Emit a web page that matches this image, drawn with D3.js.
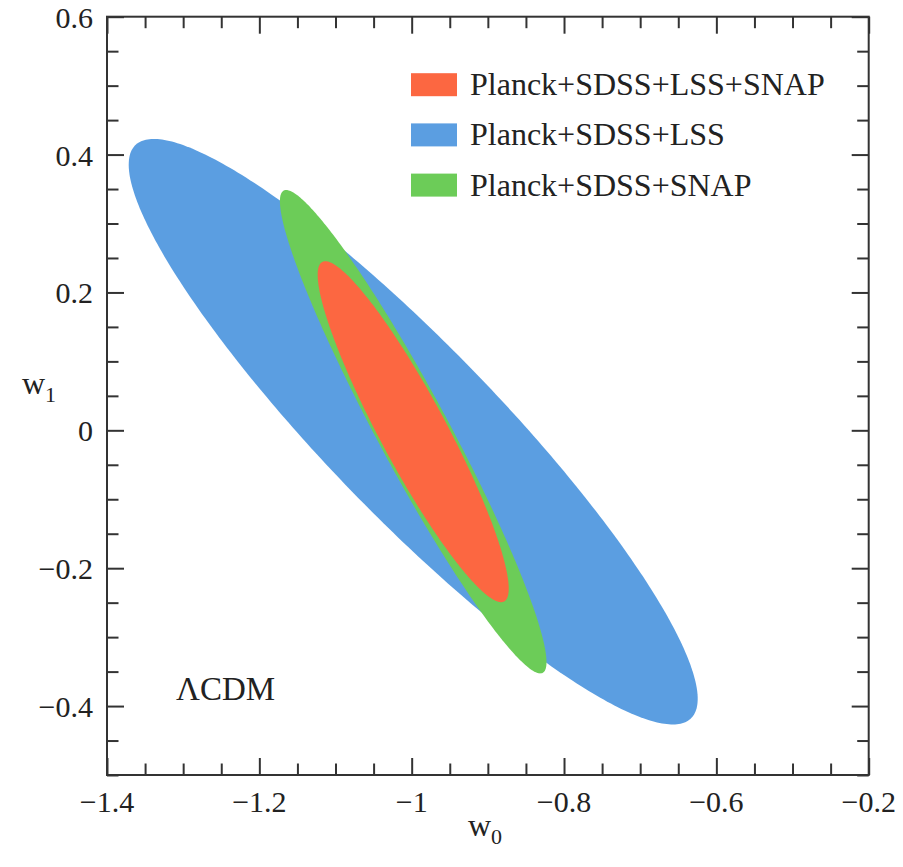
<!DOCTYPE html>
<html>
<head>
<meta charset="utf-8">
<script src="https://cdn.jsdelivr.net/npm/d3@7"></script>
<style>
  html, body { margin: 0; padding: 0; background: #fff; }
  svg { display: block; }
</style>
</head>
<body>
<svg id="chart" width="903" height="867" font-family="'Liberation Serif', 'Times New Roman', Times, 'DejaVu Serif', serif"></svg>
<script>
// Constraint contours in the (w0, w1) plane, each an ellipse given by
// centre, half-extent along each axis and the w0–w1 correlation.
const seriesNames  = ["Planck+SDSS+LSS", "Planck+SDSS+SNAP", "Planck+SDSS+LSS+SNAP"];
const seriesColors = ["#5b9ee1", "#6ccc58", "#fc6741"];
const centerW0     = [-0.998, -0.998, -0.998];
const centerW1     = [-0.002, -0.002, -0.002];
const halfWidthW0  = [0.3735, 0.1750, 0.1254];
const halfHeightW1 = [0.4247, 0.3506, 0.2473];
const correlation  = [-0.912, -0.953, -0.920];

// Legend order (top to bottom)
const legendOrder = [2, 0, 1];

// Axis ticks
const xMajorTicks  = [-1.4, -1.2, -1.0, -0.8, -0.6, -0.4];
const xTickLabels  = ["\u22121.4", "\u22121.2", "\u22121", "\u22120.8", "\u22120.6", "\u22120.2"];
const yMajorTicks  = [0.6, 0.4, 0.2, 0, -0.2, -0.4];
const yTickLabels  = ["0.6", "0.4", "0.2", "0", "\u22120.2", "\u22120.4"];
const annotation   = "\u039BCDM";

const W = 903, H = 867;
const margin = { left: 107, top: 16.7, right: 34.3, bottom: 92 };
const x = d3.scaleLinear().domain([-1.4, -0.4]).range([margin.left, W - margin.right]);
const y = d3.scaleLinear().domain([-0.5, 0.6]).range([H - margin.bottom, margin.top]);

const svg = d3.select("#chart");
const textColor = "#222";

// Contours, drawn widest first
const nSeg = 360;
const ts = d3.range(nSeg).map(i => 2 * Math.PI * i / nSeg);
const ellipseLine = d3.line().curve(d3.curveLinearClosed);
[0, 1, 2].forEach(k => {
  const s = Math.sqrt(1 - correlation[k] * correlation[k]);
  const pts = ts.map(t => [
    x(centerW0[k] + halfWidthW0[k] * Math.cos(t)),
    y(centerW1[k] + halfHeightW1[k] * (correlation[k] * Math.cos(t) + s * Math.sin(t)))
  ]);
  svg.append("path")
    .attr("d", ellipseLine(pts))
    .attr("fill", seriesColors[k]);
});

// Axes: ticks on all four sides, pointing inward
const frameColor = "#333";
const majorLen = 17, minorLen = 11.5;
const xMinor = d3.range(-1.4, -0.4 + 1e-9, 0.05).map(v => +v.toFixed(2))
  .filter(v => !xMajorTicks.some(m => Math.abs(m - v) < 1e-6));
const yMinor = d3.range(-0.5, 0.6 + 1e-9, 0.05).map(v => +v.toFixed(2))
  .filter(v => !yMajorTicks.some(m => Math.abs(m - v) < 1e-6));

function addAxis(makeAxis, transform, majors, minors) {
  const gMinor = svg.append("g").attr("transform", transform)
    .call(makeAxis().tickValues(minors).tickSize(minorLen).tickFormat(""));
  const gMajor = svg.append("g").attr("transform", transform)
    .call(makeAxis().tickValues(majors).tickSize(majorLen).tickFormat(""));
  [gMinor, gMajor].forEach(g => {
    g.select(".domain").remove();
    g.selectAll(".tick line").attr("stroke", frameColor).attr("stroke-width", 2);
  });
}

// Bottom (ticks drawn upward into the plot), top, left, right
addAxis(() => d3.axisTop(x),    `translate(0,${y(-0.5)})`, xMajorTicks, xMinor);
addAxis(() => d3.axisBottom(x), `translate(0,${y(0.6)})`,  xMajorTicks, xMinor);
addAxis(() => d3.axisRight(y),  `translate(${x(-1.4)},0)`, yMajorTicks, yMinor);
addAxis(() => d3.axisLeft(y),   `translate(${x(-0.4)},0)`, yMajorTicks, yMinor);

// Tick labels
svg.append("g").selectAll("text").data(xMajorTicks).join("text")
  .attr("x", d => x(d)).attr("y", y(-0.5) + 37)
  .attr("text-anchor", "middle").attr("font-size", 30).attr("fill", textColor)
  .text((d, i) => xTickLabels[i]);
svg.append("g").selectAll("text").data(yMajorTicks).join("text")
  .attr("x", x(-1.4) - 14).attr("y", d => y(d) + 11)
  .attr("text-anchor", "end").attr("font-size", 30).attr("fill", textColor)
  .text((d, i) => yTickLabels[i]);

// Frame
svg.append("rect")
  .attr("x", x(-1.4)).attr("y", y(0.6))
  .attr("width", x(-0.4) - x(-1.4)).attr("height", y(-0.5) - y(0.6))
  .attr("fill", "none").attr("stroke", frameColor).attr("stroke-width", 2);

// Axis titles
const xt = svg.append("text").attr("x", 468).attr("y", 836).attr("font-size", 32).attr("fill", textColor);
xt.append("tspan").text("w");
xt.append("tspan").attr("font-size", 22).attr("dy", 8).text("0");
const yt = svg.append("text").attr("x", 22).attr("y", 394).attr("font-size", 32).attr("fill", textColor);
yt.append("tspan").text("w");
yt.append("tspan").attr("font-size", 22).attr("dy", 8).text("1");

// Model label
svg.append("text").attr("x", 176).attr("y", 700).attr("font-size", 33).attr("fill", textColor).text(annotation);

// Legend
const legend = svg.append("g");
legendOrder.forEach((k, i) => {
  const cy = 84.7 + i * 50.2;
  legend.append("rect")
    .attr("x", 411).attr("y", cy - 11.5).attr("width", 46).attr("height", 23)
    .attr("fill", seriesColors[k]);
  legend.append("text")
    .attr("x", 470).attr("y", cy + 10.5).attr("font-size", 32).attr("fill", textColor)
    .text(seriesNames[k]);
});
</script>
</body>
</html>
